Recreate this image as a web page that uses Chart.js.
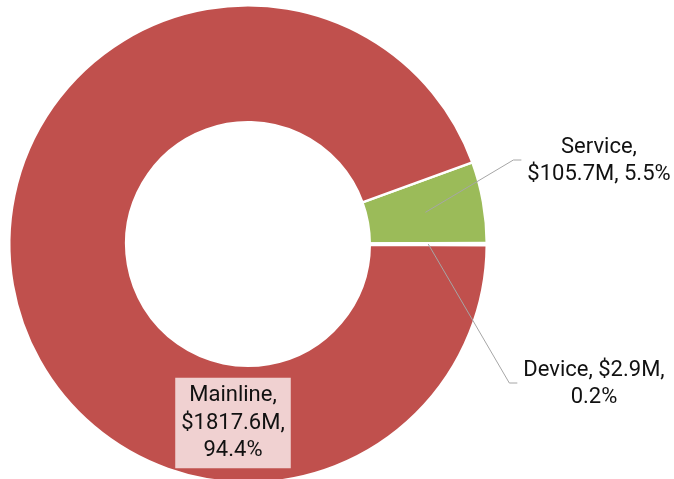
<!DOCTYPE html>
<html>
<head>
<meta charset="utf-8">
<script src="https://cdn.jsdelivr.net/npm/chart.js@4.4.1/dist/chart.umd.min.js"></script>
<style>
  html, body { margin: 0; padding: 0; background: #fff; overflow: hidden; }
  #wrap { position: relative; width: 674px; height: 479px; overflow: hidden; }
</style>
</head>
<body>
<div id="wrap">
  <canvas id="revenueChart" width="674" height="488"></canvas>
</div>
<script>
// Revenue split by business line, $M
const segments = ['Service', 'Device', 'Mainline'];
const revenue = [105.7, 2.9, 1817.6];
const segmentColors = ['#9BBB59', '#4F81BD', '#C0504D'];

// how many label parts go on each line: name, amount, share
const labelBreaks = [[1, 2], [2, 1], [1, 1, 1]];

const total = revenue.reduce((a, b) => a + b, 0);

function labelLines(i) {
  const parts = [
    segments[i] + ',',
    '$' + revenue[i].toFixed(1) + 'M,',
    (revenue[i] / total * 100).toFixed(1) + '%'
  ];
  const lines = [];
  let k = 0;
  labelBreaks[i].forEach(n => {
    lines.push(parts.slice(k, k + n).join(' '));
    k += n;
  });
  return lines;
}

/* ------------------------------
   DATA LABELS + LEADER LINES
------------------------------ */
const sliceLabels = {
  id: 'sliceLabels',
  afterDatasetsDraw(chart, args, opts) {
    const ctx = chart.ctx;
    const arcs = chart.getDatasetMeta(0).data;
    const lineH = 27.5;

    ctx.save();
    ctx.font = '22px Roboto';
    ctx.textAlign = 'center';
    ctx.textBaseline = 'middle';

    opts.places.forEach((p, i) => {
      const lines = labelLines(i);
      const w = Math.max(...lines.map(l => ctx.measureText(l).width));
      const h = lines.length * lineH;
      const top = p.y - h / 2;

      if (p.box) {
        ctx.fillStyle = '#F0D1D1';
        ctx.fillRect(p.x - w / 2 - 6, top - 4, w + 12, h + 8);
      }

      if (p.leader) {
        const c = arcs[i].getCenterPoint();
        const endX = p.x - w / 2 - 6;
        ctx.strokeStyle = '#A6A6A6';
        ctx.lineWidth = 1;
        ctx.beginPath();
        ctx.moveTo(c.x, c.y);
        ctx.lineTo(endX - 8, p.y - 1);
        ctx.lineTo(endX, p.y - 1);
        ctx.stroke();
      }

      ctx.fillStyle = '#111';
      lines.forEach((l, j) => {
        ctx.fillText(l, p.x, top + lineH * (j + 0.5));
      });
    });
    ctx.restore();
  }
};

new Chart(document.getElementById('revenueChart'), {
  type: 'doughnut',
  data: {
    labels: segments,
    datasets: [{
      data: revenue,
      backgroundColor: segmentColors,
      borderColor: '#FFFFFF',
      borderWidth: 2.5
    }]
  },
  options: {
    responsive: false,
    animation: false,
    rotation: 70,
    cutout: '51%',
    layout: { padding: { left: 8, right: 186, top: 4, bottom: 4 } },
    plugins: {
      legend: { display: false },
      tooltip: { enabled: false },
      sliceLabels: {
        places: [
          { x: 599, y: 161, leader: true },
          { x: 594, y: 384, leader: true },
          { x: 233, y: 423, box: true }
        ]
      }
    }
  },
  plugins: [sliceLabels]
});
</script>
</body>
</html>
